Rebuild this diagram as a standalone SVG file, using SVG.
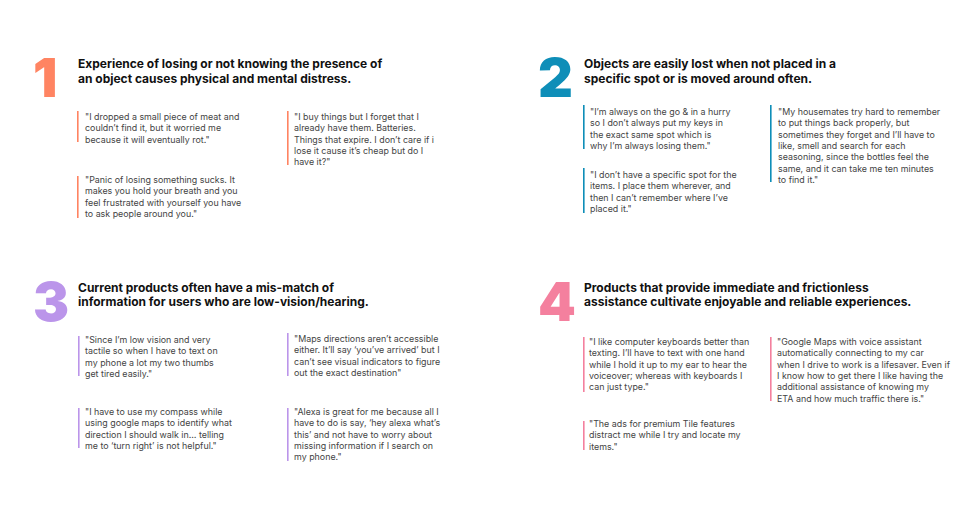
<svg xmlns="http://www.w3.org/2000/svg" width="979" height="509" viewBox="0 0 979 509">
<style>
.num{font-family:Inter,"Liberation Sans",sans-serif;font-weight:900;font-size:54px}
.h{font-family:Inter,"Liberation Sans",sans-serif;font-weight:700;font-size:12px;fill:#111}
.q{font-family:Inter,"Liberation Sans",sans-serif;font-size:8.9px;fill:#444}
.o{fill:#FF8462}.b{fill:#0E8EB8}.p{fill:#BB95EA}.k{fill:#F4809E}
</style>
<rect width="979" height="509" fill="#fff"/>
<g id="s1">
<text class="num o" x="33" y="97">1</text>
<text class="h" x="78" y="68">Experience of losing or not knowing the presence of</text>
<text class="h" x="78" y="83">an object causes physical and mental distress.</text>
<rect class="o" x="77" y="111" width="1.6" height="31"/>
<text class="q" x="85"><tspan x="85" y="120">"I dropped a small piece of meat and</tspan><tspan x="85" y="131.3">couldn’t find it, but it worried me</tspan><tspan x="85" y="142.6">because it will eventually rot."</tspan></text>
<rect class="o" x="287" y="111" width="1.6" height="54"/>
<text class="q"><tspan x="294" y="120">"I buy things but I forget that I</tspan><tspan x="294" y="131.3">already have them. Batteries.</tspan><tspan x="294" y="142.6">Things that expire. I don’t care if i</tspan><tspan x="294" y="153.9">lose it cause it’s cheap but do I</tspan><tspan x="294" y="165.2">have it?"</tspan></text>
<rect class="o" x="77" y="176" width="1.6" height="42"/>
<text class="q"><tspan x="85" y="183">"Panic of losing something sucks. It</tspan><tspan x="85" y="194.3">makes you hold your breath and you</tspan><tspan x="85" y="205.6">feel frustrated with yourself you have</tspan><tspan x="85" y="216.9">to ask people around you."</tspan></text>
</g>
<g id="s2">
<text class="num b" x="538" y="97">2</text>
<text class="h" x="584" y="68">Objects are easily lost when not placed in a</text>
<text class="h" x="584" y="83">specific spot or is moved around often.</text>
<rect class="b" x="583" y="105" width="1.6" height="44"/>
<text class="q"><tspan x="590" y="115">"I’m always on the go &amp; in a hurry</tspan><tspan x="590" y="126.3">so I don’t always put my keys in</tspan><tspan x="590" y="137.6">the exact same spot which is</tspan><tspan x="590" y="148.9">why I’m always  losing them."</tspan></text>
<rect class="b" x="583" y="168" width="1.6" height="45"/>
<text class="q"><tspan x="590" y="178">"I don’t have a specific spot for the</tspan><tspan x="590" y="189.3">items. I place them wherever, and</tspan><tspan x="590" y="200.6">then I can’t remember where I’ve</tspan><tspan x="590" y="211.9">placed it."</tspan></text>
<rect class="b" x="770" y="105" width="1.6" height="77"/>
<text class="q"><tspan x="778" y="115">"My housemates try hard to remember</tspan><tspan x="778" y="126.3">to put things back properly, but</tspan><tspan x="778" y="137.6">sometimes they forget and I’ll have to</tspan><tspan x="778" y="148.9">like, smell and search for each</tspan><tspan x="778" y="160.2">seasoning, since the bottles feel the</tspan><tspan x="778" y="171.5">same, and it can take me ten minutes</tspan><tspan x="778" y="182.8">to find it."</tspan></text>
</g>
<g id="s3">
<text class="num p" x="33" y="321">3</text>
<text class="h" x="78" y="292">Current products often have a mis-match of</text>
<text class="h" x="78" y="306">information for users who are low-vision/hearing.</text>
<rect class="p" x="78" y="336" width="1.6" height="40"/>
<text class="q"><tspan x="85" y="343">"Since I’m low vision and very</tspan><tspan x="85" y="354.3">tactile so when I have to text on</tspan><tspan x="85" y="365.6">my phone a lot my two thumbs</tspan><tspan x="85" y="376.9">get tired easily."</tspan></text>
<rect class="p" x="287" y="333" width="1.6" height="43"/>
<text class="q"><tspan x="294" y="342">"Maps directions aren’t accessible</tspan><tspan x="294" y="353.3">either. It’ll say ‘you’ve arrived’ but I</tspan><tspan x="294" y="364.6">can’t see visual indicators to figure</tspan><tspan x="294" y="375.9">out the exact destination"</tspan></text>
<rect class="p" x="78" y="408" width="1.6" height="40"/>
<text class="q"><tspan x="85" y="415">"I have to use my compass while</tspan><tspan x="85" y="426.3">using google maps to identify what</tspan><tspan x="85" y="437.6">direction I should walk in… telling</tspan><tspan x="85" y="448.9">me to ‘turn right’ is not helpful."</tspan></text>
<rect class="p" x="287" y="408" width="1.6" height="53"/>
<text class="q"><tspan x="294" y="415">"Alexa is great for me because all I</tspan><tspan x="294" y="426.3">have to do is say, ‘hey alexa what’s</tspan><tspan x="294" y="437.6">this’ and not have to worry about</tspan><tspan x="294" y="448.9">missing information if I search on</tspan><tspan x="294" y="460.2">my phone."</tspan></text>
</g>
<g id="s4">
<text class="num k" x="538" y="321">4</text>
<text class="h" x="584" y="292">Products that provide immediate and frictionless</text>
<text class="h" x="584" y="306">assistance cultivate enjoyable and reliable experiences.</text>
<rect class="k" x="583" y="337" width="1.6" height="55"/>
<text class="q"><tspan x="589" y="345">"I like computer keyboards better than</tspan><tspan x="589" y="356.3">texting. I’ll have to text with one hand</tspan><tspan x="589" y="367.6">while I hold it up to my ear to hear the</tspan><tspan x="589" y="378.9">voiceover; whereas with keyboards I</tspan><tspan x="589" y="390.2">can just type."</tspan></text>
<rect class="k" x="770" y="337" width="1.6" height="64"/>
<text class="q"><tspan x="777" y="345">"Google Maps with voice assistant</tspan><tspan x="777" y="356.3">automatically connecting to my car</tspan><tspan x="777" y="367.6">when I drive to work is a lifesaver. Even if</tspan><tspan x="777" y="378.9">I know how to get there I like having the</tspan><tspan x="777" y="390.2">additional assistance of knowing my</tspan><tspan x="777" y="401.5">ETA and how much traffic there is."</tspan></text>
<rect class="k" x="583" y="421" width="1.6" height="29"/>
<text class="q"><tspan x="589" y="427">"The ads for premium Tile features</tspan><tspan x="589" y="438.3">distract me while I try and locate my</tspan><tspan x="589" y="449.6">items."</tspan></text>
</g>
</svg>
